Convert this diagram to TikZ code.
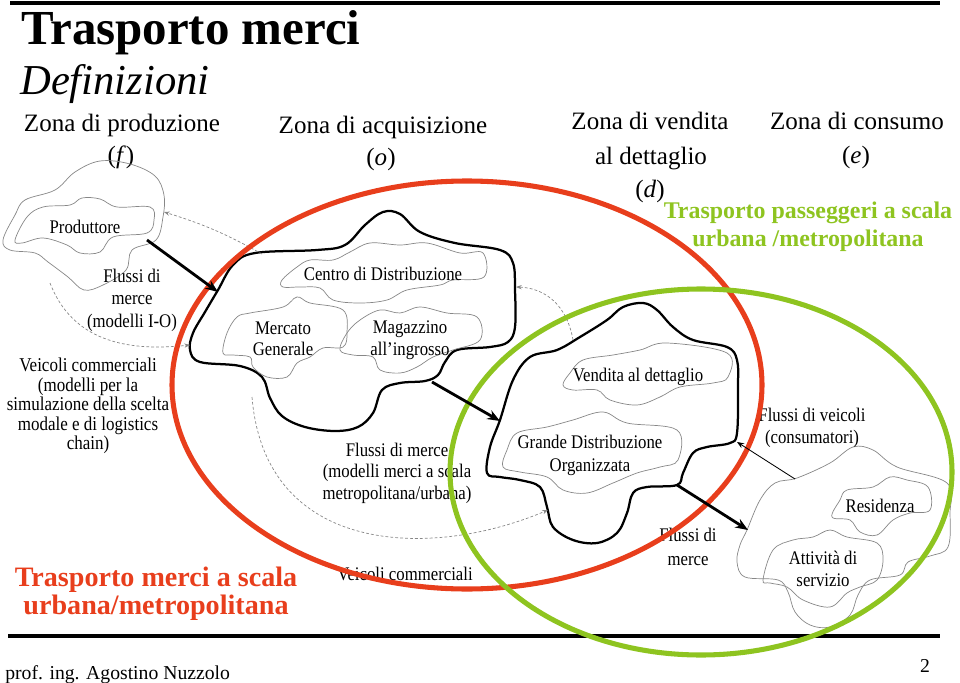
\documentclass[tikz,border=0pt]{standalone}
\usepackage{fontspec}
\setmainfont{Liberation Serif}
\newfontfamily\narrowserif[FakeStretch=0.87]{Liberation Serif}
\usetikzlibrary{arrows.meta}

\definecolor{slidered}{RGB}{232,62,28}
\definecolor{slidegreen}{RGB}{142,196,32}
\definecolor{cloudgray}{RGB}{135,135,135}

\tikzset{
	lbl/.style={font=\narrowserif\fontsize{13.7}{15.5}\selectfont, align=center, inner sep=0pt},
	head/.style={font=\fontsize{17.8}{22}\selectfont, inner sep=0pt, anchor=base},
	zone/.style={line width=1.6pt, line join=round},
	subzone/.style={draw=cloudgray, line width=0.5pt},
	flow/.style={line width=2pt, -{Stealth[length=9pt,width=7pt]}},
	trip/.style={draw=cloudgray, dash pattern=on 2pt off 1.5pt, line width=0.5pt, -{Stealth[length=4pt,width=3pt]}},
	ring/.style={line width=3.6pt}
}

\begin{document}
\begin{tikzpicture}[x=0.025cm, y=-0.025cm]
	\useasboundingbox (0,0) rectangle (960,683);

	\draw[line width=2.8pt] (10,3) -- (940,3);
	\draw[line width=3.5pt] (8,636) -- (940,636);

	\node[anchor=base west, font=\bfseries\fontsize{34.8}{40}\selectfont, inner sep=0pt] (title) at(21, 45){Trasporto merci};
	\node[anchor=base west, font=\itshape\fontsize{30.3}{34}\selectfont, inner sep=0pt] (subtitle) at(20, 95){Definizioni};

	\node[head] (zprod) at(122, 131){Zona di produzione};
	\node[head] (zprodsym) at(121, 163){(\textit{f})};
	\node[head] (zacq) at(383, 133){Zona di acquisizione};
	\node[head] (zacqsym) at(381, 165){(\textit{o})};
	\node[head] (zvend) at(650, 130){Zona di vendita};
	\node[head] (zvendb) at(651, 164){al dettaglio};
	\node[head] (zvendsym) at(650, 197){(\textit{d})};
	\node[head] (zcons) at(857, 129){Zona di consumo};
	\node[head] (zconssym) at(856, 163){(\textit{e})};

	\node[anchor=base, font=\bfseries\fontsize{17}{20}\selectfont, text=slidegreen, inner sep=0pt] (passA) at(808, 218){Trasporto passeggeri a scala};
	\node[anchor=base, font=\bfseries\fontsize{17}{20}\selectfont, text=slidegreen, inner sep=0pt] (passB) at(808, 246){urbana /metropolitana};
	\node[anchor=base, font=\bfseries\fontsize{20}{24}\selectfont, text=slidered, inner sep=0pt] (merciA) at(156, 586){Trasporto merci a scala};
	\node[anchor=base, font=\bfseries\fontsize{20}{24}\selectfont, text=slidered, inner sep=0pt] (merciB) at(156, 614){urbana/metropolitana};

	\node[anchor=base west, font=\fontsize{14}{16}\selectfont, inner sep=0pt] (author) at(5, 679){prof. ing. Agostino Nuzzolo};
	\node[anchor=base, font=\fontsize{14}{16}\selectfont, inner sep=0pt] (page) at(925, 672){2};

	% zona di produzione
	\draw[subzone] plot[smooth cycle, tension=0.6] coordinates {(3,240) (15,215) (25,200) (55,190) (75,172) (100,161) (130,164) (155,176) (164,195) (163,217) (156,240) (132,250) (126,270) (103,285) (84,290) (68,277) (48,262) (35,253) (10,250)};
	\draw[subzone] plot[smooth cycle, tension=0.6] coordinates {(15,240) (27,217) (43,207) (70,205) (82,198) (100,199) (117,207) (150,207) (154,220) (147,233) (113,237) (100,252) (80,253) (67,245) (43,238) (22,243)};
	\node[lbl] (prod) at(85, 227){Produttore};
	\node[lbl, font=\narrowserif\fontsize{13.7}{16}\selectfont] (fluxio) at(132, 300){Flussi di\\merce\\(modelli I-O)};
	\node[lbl, font=\narrowserif\fontsize{13.9}{13.9}\selectfont] (veicmod) at(88, 406){Veicoli commerciali\\(modelli per la\\simulazione della scelta\\modale e di logistics\\chain)};

	% zona di acquisizione
	\draw[zone] plot[smooth cycle, tension=0.6] coordinates {(190,350) (193,333) (205,312) (218,290) (233,265) (255,253) (317,250) (345,245) (365,225) (383,212) (400,214) (420,232) (455,243) (500,250) (513,263) (515,290) (515,327) (508,342) (490,347) (457,350) (445,362) (438,375) (425,381) (400,383) (382,390) (373,413) (358,427) (335,431) (305,427) (282,416) (270,398) (262,377) (240,366) (200,362)};
	\draw[subzone] plot[smooth cycle, tension=0.6] coordinates {(282,280) (297,267) (310,260) (333,260) (350,252) (370,243) (400,245) (427,243) (460,253) (483,253) (484,277) (453,280) (440,285) (407,290) (387,300) (360,303) (333,300) (320,288) (300,287) (283,287)};
	\draw[subzone] plot[smooth cycle, tension=0.6] coordinates {(223,353) (227,333) (237,317) (250,313) (283,307) (297,297) (310,303) (343,310) (347,333) (343,347) (323,348) (310,357) (297,363) (287,377) (267,377) (253,367) (250,357) (233,355)};
	\draw[subzone] plot[smooth cycle, tension=0.6] coordinates {(340,350) (347,333) (360,320) (380,310) (400,313) (420,307) (447,313) (477,317) (480,340) (453,350) (433,357) (417,367) (400,373) (380,370) (373,357) (353,355)};
	\node[lbl] (centro) at(383, 274){Centro di Distribuzione};
	\node[lbl, font=\narrowserif\fontsize{13.7}{15}\selectfont] (mercato) at(283, 339){Mercato\\Generale};
	\node[lbl, font=\narrowserif\fontsize{13.7}{16}\selectfont] (magazzino) at(410, 340){Magazzino\\all’ingrosso};
	\node[lbl, font=\narrowserif\fontsize{13.7}{15.3}\selectfont] (fluxmetro) at(397, 473){Flussi di merce\\(modelli merci a scala\\metropolitana/urbana)};
	\node[lbl] (veicoli) at(405, 574){Veicoli commerciali};

	% zona di vendita
	\draw[zone] plot[smooth cycle, tension=0.6] coordinates {(487,473) (490,447) (500,420) (513,380) (530,357) (557,350) (580,337) (607,320) (623,307) (643,303) (657,310) (673,327) (693,340) (727,347) (737,360) (738,387) (737,433) (730,443) (707,447) (693,453) (683,473) (677,485) (647,487) (633,493) (627,513) (617,533) (597,543) (573,540) (553,527) (547,507) (540,487) (520,480) (500,477)};
	\draw[subzone] plot[smooth cycle, tension=0.6] coordinates {(563,385) (570,373) (583,360) (613,355) (640,350) (667,343) (727,353) (728,377) (713,383) (680,387) (660,397) (637,405) (610,400) (597,390) (573,390)};
	\draw[subzone] plot[smooth cycle, tension=0.6] coordinates {(503,467) (507,450) (517,433) (547,427) (573,420) (603,412) (627,423) (677,430) (678,460) (660,467) (637,473) (613,483) (587,493) (563,490) (547,477) (520,472)};
	\node[lbl] (vendita) at(638, 377){Vendita al dettaglio};
	\node[lbl, font=\narrowserif\fontsize{13.7}{16.4}\selectfont] (gdo) at(590, 455){Grande Distribuzione\\Organizzata};
	\node[lbl, font=\narrowserif\fontsize{13.7}{17}\selectfont] (fluxmerce) at(688, 547){Flussi di\\merce};

	% zona di consumo
	\draw[subzone] plot[smooth cycle, tension=0.6] coordinates {(747,530) (760,500) (775,483) (797,478) (830,463) (853,447) (873,450) (897,467) (947,483) (950,513) (948,547) (930,556) (908,562) (900,575) (870,580) (858,595) (850,615) (830,627) (810,625) (795,612) (788,592) (778,580) (745,577) (737,562) (740,545)};
	\draw[subzone] plot[smooth cycle, tension=0.6] coordinates {(832,517) (840,500) (847,490) (873,487) (890,477) (907,480) (928,487) (930,510) (910,513) (893,520) (877,535) (860,532) (850,520)};
	\draw[subzone] plot[smooth cycle, tension=0.6] coordinates {(763,580) (773,550) (793,540) (813,537) (830,530) (847,537) (877,543) (883,560) (877,580) (860,587) (847,593) (830,607) (803,600) (787,587) (770,583)};
	\node[lbl, font=\narrowserif\fontsize{13.7}{15.6}\selectfont] (fluxveic) at(812, 428){Flussi di veicoli\\(consumatori)};
	\node[lbl] (residenza) at(880, 506){Residenza};
	\node[lbl, font=\narrowserif\fontsize{13.7}{15.6}\selectfont] (servizio) at(823, 569){Attività di\\servizio};

	\coordinate (prodOut) at(147, 240);
	\coordinate (distIn) at(218, 292);
	\coordinate (distOut) at(432, 382);
	\coordinate (vendIn) at(500, 421);
	\coordinate (vendOut) at(677, 485);
	\coordinate (consIn) at(748, 530);
	\coordinate (consTop) at(795, 479);
	\coordinate (vendSide) at(737, 442);
	\coordinate (distTL) at(262, 254);
	\coordinate (prodSide) at(164, 212);
	\coordinate (prodLow) at(50, 283);
	\coordinate (distSide) at(190, 345);
	\coordinate (vendTop) at(573, 340);
	\coordinate (distEast) at(516, 287);
	\coordinate (distLow) at(252, 397);
	\coordinate (vendLow) at(548, 510);

	\draw[trip] (distTL) to[bend right=6] (prodSide);
	\draw[trip] (prodLow) .. controls (72,340) and (125,352) .. (distSide);
	\draw[trip] (vendTop) .. controls (567,305) and (545,288) .. (distEast);
	\draw[trip] (distLow) .. controls (265,555) and (430,560) .. (vendLow);

	\draw[ring, slidered] (467,385) ellipse [x radius=295, y radius=204];
	\draw[ring, slidegreen] (701,472) ellipse [x radius=251, y radius=183];

	\draw[flow] (prodOut) -- (distIn);
	\draw[flow] (distOut) -- (vendIn);
	\draw[flow] (vendOut) -- (consIn);
	\draw[line width=0.6pt, -{Stealth[length=5pt,width=4pt]}] (consTop) -- (vendSide);

\end{tikzpicture}
\end{document}
